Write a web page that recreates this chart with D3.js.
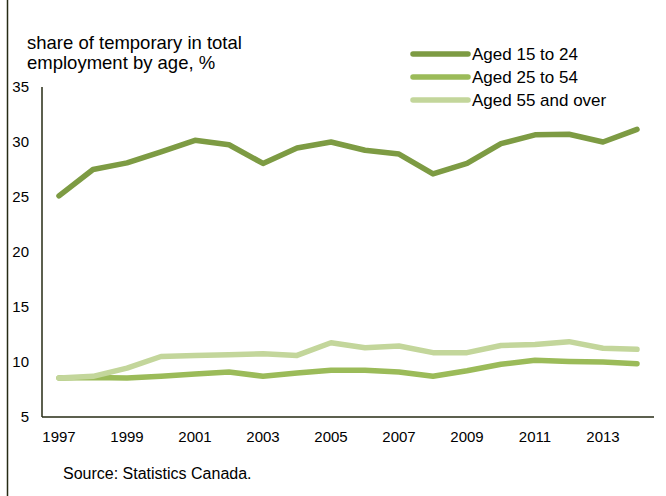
<!DOCTYPE html>
<html>
<head>
<meta charset="utf-8">
<script src="https://cdn.jsdelivr.net/npm/d3@7"></script>
<style>
  body { margin: 0; background: #fff; }
  text { font-family: "Liberation Sans", Arial, sans-serif; fill: #000; }
</style>
</head>
<body>
<div class="chart"></div>
<script>
/* Data
============================================= */
const years = d3.range(1997, 2015);
const tickYears = [1997, 1999, 2001, 2003, 2005, 2007, 2009, 2011, 2013];
const yTicks = [5, 10, 15, 20, 25, 30, 35];

const aged15to24 = [25.1, 27.5, 28.1, 29.1, 30.15, 29.75, 28.05, 29.45, 30.0, 29.25, 28.9, 27.1, 28.05, 29.85, 30.65, 30.7, 30.0, 31.15];
const aged25to54 = [8.55, 8.6, 8.55, 8.7, 8.9, 9.1, 8.7, 9.0, 9.25, 9.25, 9.1, 8.7, 9.2, 9.8, 10.15, 10.05, 10.0, 9.85];
const aged55over = [8.55, 8.7, 9.45, 10.5, 10.6, 10.65, 10.75, 10.6, 11.75, 11.3, 11.45, 10.85, 10.85, 11.5, 11.6, 11.85, 11.25, 11.15];

const seriesNames = ["Aged 15 to 24", "Aged 25 to 54", "Aged 55 and over"];
const seriesColors = ["#7d9b43", "#9bbb59", "#c3d69b"];

/* Layout
============================================= */
const SVG_WIDTH = 666;
const SVG_HEIGHT = 496;

var margin = { top: 87, bottom: 79, left: 42, right: 12 };
var width = SVG_WIDTH - margin.left - margin.right;
var height = SVG_HEIGHT - margin.top - margin.bottom;

var svg = d3.select(".chart")
    .append("svg")
    .attr("width", SVG_WIDTH)
    .attr("height", SVG_HEIGHT);

// left frame line
svg.append("line")
    .attr("x1", 7.5).attr("x2", 7.5)
    .attr("y1", 0).attr("y2", SVG_HEIGHT)
    .attr("stroke", "#262b14")
    .attr("stroke-width", 1.5);

var chart = svg.append("g")
    .attr("transform", `translate(${margin.left}, ${margin.top})`);

var xScale = d3.scalePoint()
    .domain(years)
    .range([0, width])
    .padding(0.5);

var yScale = d3.scaleLinear()
    .domain([5, 35])
    .range([height, 0]);

// y tick labels
chart.append("g")
    .selectAll("text")
    .data(yTicks)
    .enter()
    .append("text")
    .attr("x", -13)
    .attr("y", d => yScale(d))
    .attr("dy", "0.35em")
    .attr("text-anchor", "end")
    .style("font-size", "15px")
    .text(d => d);

// x tick labels
chart.append("g")
    .selectAll("text")
    .data(tickYears)
    .enter()
    .append("text")
    .attr("x", d => xScale(d))
    .attr("y", height + 25)
    .attr("text-anchor", "middle")
    .style("font-size", "15px")
    .text(d => d);

// lines
var line = d3.line()
    .x((d, i) => xScale(years[i]))
    .y(d => yScale(d));

[aged15to24, aged25to54, aged55over].forEach(function(values, i) {
    chart.append("path")
        .datum(values)
        .attr("fill", "none")
        .attr("stroke", seriesColors[i])
        .attr("stroke-width", 5.5)
        .attr("stroke-linejoin", "round")
        .attr("stroke-linecap", "round")
        .attr("d", line);
});

// axes lines
chart.append("line")
    .attr("x1", 0).attr("x2", 0)
    .attr("y1", 0).attr("y2", height)
    .attr("stroke", "#262b14")
    .attr("stroke-width", 1.5);

chart.append("line")
    .attr("x1", 0).attr("x2", width)
    .attr("y1", height).attr("y2", height)
    .attr("stroke", "#262b14")
    .attr("stroke-width", 1.5);

// title
var title = svg.append("text")
    .attr("x", 27)
    .attr("y", 49)
    .style("font-size", "18.5px");
title.append("tspan").attr("x", 27).text("share of temporary in total");
title.append("tspan").attr("x", 27).attr("dy", 20).text("employment by age, %");

// legend
var legend = svg.append("g")
    .attr("transform", "translate(413, 54)");

seriesNames.forEach(function(name, i) {
    var row = legend.append("g")
        .attr("transform", `translate(0, ${i * 23})`);
    row.append("line")
        .attr("x1", 0).attr("x2", 55)
        .attr("y1", 0).attr("y2", 0)
        .attr("stroke", seriesColors[i])
        .attr("stroke-width", 5.5)
        .attr("stroke-linecap", "round");
    row.append("text")
        .attr("x", 59)
        .attr("y", 0)
        .attr("dy", "0.35em")
        .style("font-size", "17px")
        .text(name);
});

// source
svg.append("text")
    .attr("x", 63)
    .attr("y", 479)
    .style("font-size", "16px")
    .text("Source: Statistics Canada.");
</script>
</body>
</html>
